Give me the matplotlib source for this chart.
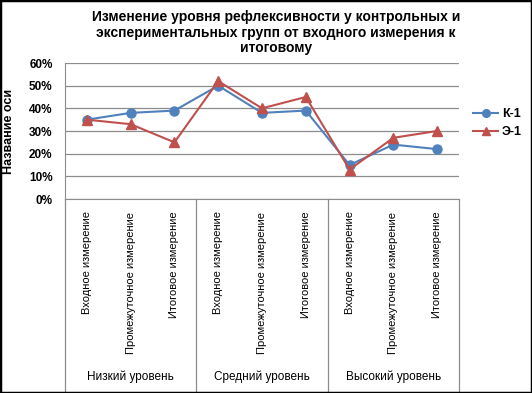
import matplotlib
matplotlib.use("Agg")
import matplotlib.pyplot as plt
from matplotlib.lines import Line2D
from matplotlib.patches import Rectangle
import matplotlib.transforms as mtransforms

plt.rcParams['font.family'] = ['Liberation Sans', 'DejaVu Sans']

categories = ["Входное измерение", "Промежуточное измерение", "Итоговое измерение"] * 3
groups = ["Низкий уровень", "Средний уровень", "Высокий уровень"]
k1 = [35, 38, 39, 50, 38, 39, 15, 24, 22]
e1 = [35, 33, 25, 52, 40, 45, 13, 27, 30]
yticks = [0, 10, 20, 30, 40, 50, 60]
title = "Изменение уровня рефлексивности у контрольных и\nэкспериментальных групп от входного измерения к\nитоговому"

blue = "#4F81BD"
red = "#C0504D"
gray = "#8C8C8C"

W, H = 532, 393
fig = plt.figure(figsize=(W / 100, H / 100), dpi=100)
fig.patch.set_facecolor("white")
L, R, T, B = 65, 459, 63, 199
ax = fig.add_axes([L / W, 1 - B / H, (R - L) / W, (B - T) / H])

x = list(range(len(categories)))
ax.plot(x, k1, color=blue, lw=1.5, marker="o", ms=6.5, label="К-1", zorder=3)
ax.plot(x, e1, color=red, lw=1.5, marker="^", ms=6.5, label="Э-1", zorder=3)

ax.set_xlim(-0.5, len(categories) - 0.5)
ax.set_ylim(0, 60)
ax.set_yticks(yticks)
ax.set_yticklabels([f"{v}%" for v in yticks], fontsize=8.5, fontweight="bold")
ax.tick_params(axis="y", length=0, pad=9)
ax.yaxis.grid(True, color=gray, lw=0.9)
ax.set_axisbelow(True)
for s in ["top", "right"]:
    ax.spines[s].set_visible(False)
ax.spines["left"].set_color(gray)
ax.spines["bottom"].set_color(gray)

ax.set_xticks(x)
ax.set_xticklabels(categories, rotation=90, fontsize=8, va="top", ha="center")
ax.tick_params(axis="x", length=0, pad=9)

ax.set_ylabel("Название оси", fontsize=9, fontweight="bold")
ax.yaxis.set_label_coords((15 - L) / (R - L), 0.5)

# group separators
bottom_ax = -(391 - B) / (B - T)
trans = mtransforms.blended_transform_factory(ax.transData, ax.transAxes)
for sx in [-0.5, 2.5, 5.5, 8.5]:
    ax.add_line(Line2D([sx, sx], [0, bottom_ax], transform=trans,
                       color=gray, lw=0.9, clip_on=False))
grp_y = -(377 - B) / (B - T)
for i, g in enumerate(groups):
    ax.text(3 * i + 1, grp_y, g, transform=trans, ha="center", va="center", fontsize=8.5)

fig.text(276 / W, 1 - 10 / H, title, ha="center", va="top", fontsize=10, fontweight="bold", linespacing=1.15)

leg = fig.legend(loc="center left", bbox_to_anchor=(473 / W, 1 - 123 / H), frameon=False,
                 prop={"size": 9, "weight": "bold"}, handlelength=2.0, handletextpad=0.3,
                 labelspacing=0.5, borderaxespad=0, borderpad=0, markerscale=0.85)

fig.add_artist(Rectangle((0, 0), 1, 1, transform=fig.transFigure, fill=False, edgecolor="black", lw=2.5))

fig.savefig("out.png", dpi=100, facecolor="white")
